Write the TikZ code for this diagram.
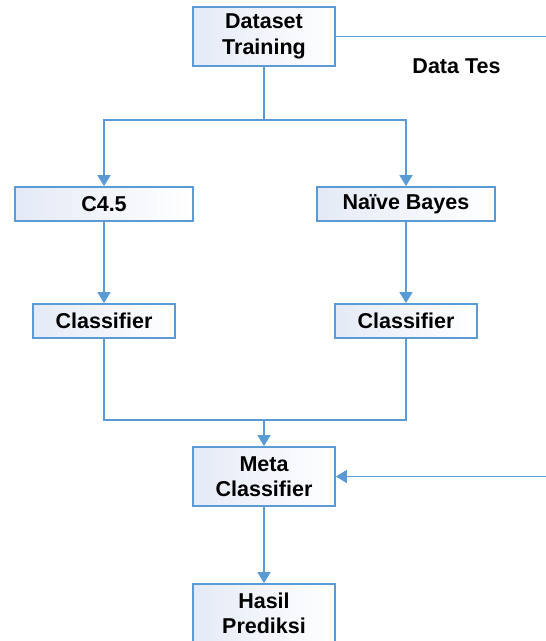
\documentclass[tikz,border=0pt]{standalone}
\usepackage{fontspec}
\setmainfont{Liberation Sans}
\usetikzlibrary{arrows.meta}
\definecolor{lineblue}{RGB}{91,155,213}
\definecolor{fillblue}{RGB}{228,234,246}
\tikzset{
  box/.style={draw=lineblue, line width=1.8pt, left color=fillblue, right color=white,
    inner sep=0pt, align=center, font=\fontsize{21.5}{25.5}\selectfont\bfseries},
  conn/.style={draw=lineblue, line width=1.8pt},
  arr/.style={conn, -{Triangle[width=13pt,length=11pt]}}
}
\begin{document}
\begin{tikzpicture}[x=1pt,y=-1pt]
\useasboundingbox (0,0) rectangle (546,641);
\node[box, minimum width=142pt, minimum height=59pt] (ds) at (264,36.5) {Dataset\\Training};
\node[box, minimum width=178pt, minimum height=34pt] (c45) at (104,204) {C4.5};
\node[box, minimum width=178pt, minimum height=34pt] (nb) at (406,204) {Naïve Bayes};
\node[box, minimum width=142pt, minimum height=34pt] (cl) at (104,321) {Classifier};
\node[box, minimum width=142pt, minimum height=34pt] (cr) at (406,321) {Classifier};
\node[box, minimum width=142pt, minimum height=59pt] (meta) at (264,476.5) {Meta\\Classifier};
\node[box, minimum width=142pt, minimum height=59pt] (hp) at (264,613.5) {Hasil\\Prediksi};
\node[font=\fontsize{21.5}{25.5}\selectfont\bfseries] (dt) at (456.5,66) {Data Tes};
\coordinate (j1) at (264,120);
\coordinate (j2) at (264,420);
\coordinate (e1) at (546,36.5);
\coordinate (e2) at (546,476.5);
\draw[conn] (ds.south) -- (j1);
\draw[arr] (j1) -| (c45.north);
\draw[arr] (j1) -| (nb.north);
\draw[arr] (c45.south) -- (cl.north);
\draw[arr] (nb.south) -- (cr.north);
\draw[conn] (cl.south) |- (j2) -| (cr.south);
\draw[arr] (j2) -- (meta.north);
\draw[arr] (meta.south) -- (hp.north);
\draw[conn] (ds.east) -- (e1);
\draw[arr] (e2) -- (meta.east);
\end{tikzpicture}
\end{document}
